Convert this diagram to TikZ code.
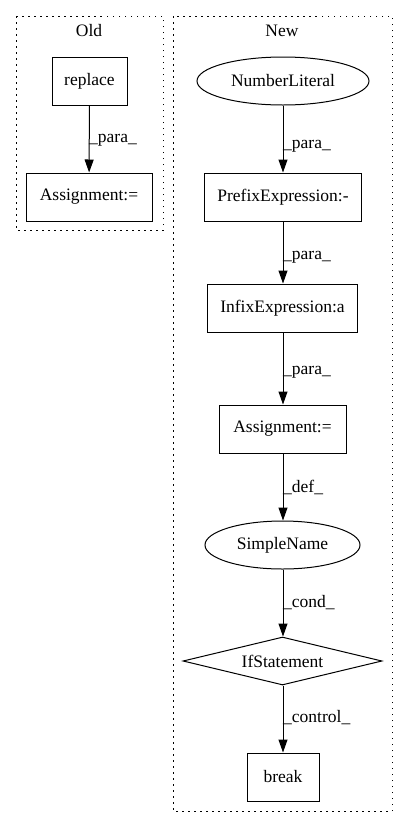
\documentclass[tikz,border=0pt]{standalone}
\usepackage{fontspec}
\setmainfont{Liberation Serif}
\usetikzlibrary{arrows.meta,shapes.geometric}
\begin{document}
\begin{tikzpicture}[x=1pt,y=-1pt,
  every node/.style={font=\fontsize{17.5}{20}\selectfont, inner sep=0pt},
  boxn/.style={draw, line width=1pt, rectangle, minimum height=48pt},
  elln/.style={draw, line width=1pt, ellipse, minimum height=48pt},
  dia/.style={draw, line width=1pt, diamond, aspect=4.1, minimum height=48pt},
  cluster/.style={draw, line width=1pt, dash pattern=on 1.5pt off 4.5pt},
  edge/.style={draw, line width=1pt, -{Triangle[length=13pt,width=9pt]}},
  elab/.style={anchor=west, inner sep=0pt}]
\useasboundingbox (0,0) rectangle (408,828);
% clusters
\draw[cluster] (16,16) rectangle (163,230);
\node (oldlab) at (89,31) {Old};
\draw[cluster] (173,16) rectangle (392,811);
\node (newlab) at (282,31) {New};
% Old
\node[boxn, minimum width=75pt] (replace) at (89.5,81) {replace};
\node[boxn, minimum width=126pt] (assignold) at (89,197) {Assignment:=};
\draw[edge] (replace) -- (assignold);
\node[elab] (l0) at (89,140) {\_para\_};
% New
\node[elln, minimum width=172pt] (numlit) at (283,81) {NumberLiteral};
\node[boxn, minimum width=157pt] (prefix) at (283,197) {PrefixExpression:-};
\node[boxn, minimum width=150pt] (infix) at (282.5,308) {InfixExpression:a};
\node[boxn, minimum width=127pt] (assignnew) at (282.5,429) {Assignment:=};
\node[elln, minimum width=155pt] (simple) at (282.5,545) {SimpleName};
\node[dia, minimum width=199pt] (ifst) at (282.5,661) {IfStatement};
\node[boxn, minimum width=72pt] (brk) at (283,777) {break};
\draw[edge] (numlit.south -| 283,0) -- (prefix.north -| 283,0);
\node[elab] (l1) at (283,146) {\_para\_};
\draw[edge] (prefix.south -| 283,0) -- (infix.north -| 283,0);
\node[elab] (l2) at (283,257) {\_para\_};
\draw[edge] (infix.south -| 283,0) -- (assignnew.north -| 283,0);
\node[elab] (l3) at (283,372) {\_para\_};
\draw[edge] (assignnew.south -| 283,0) -- (simple.north -| 283,0);
\node[elab] (l4) at (283,487) {\_def\_};
\draw[edge] (simple.south -| 283,0) -- (ifst.north -| 283,0);
\node[elab] (l5) at (283,603) {\_cond\_};
\draw[edge] (ifst.south -| 283,0) -- (brk.north -| 283,0);
\node[elab] (l6) at (283,718) {\_control\_};
\end{tikzpicture}
\end{document}
